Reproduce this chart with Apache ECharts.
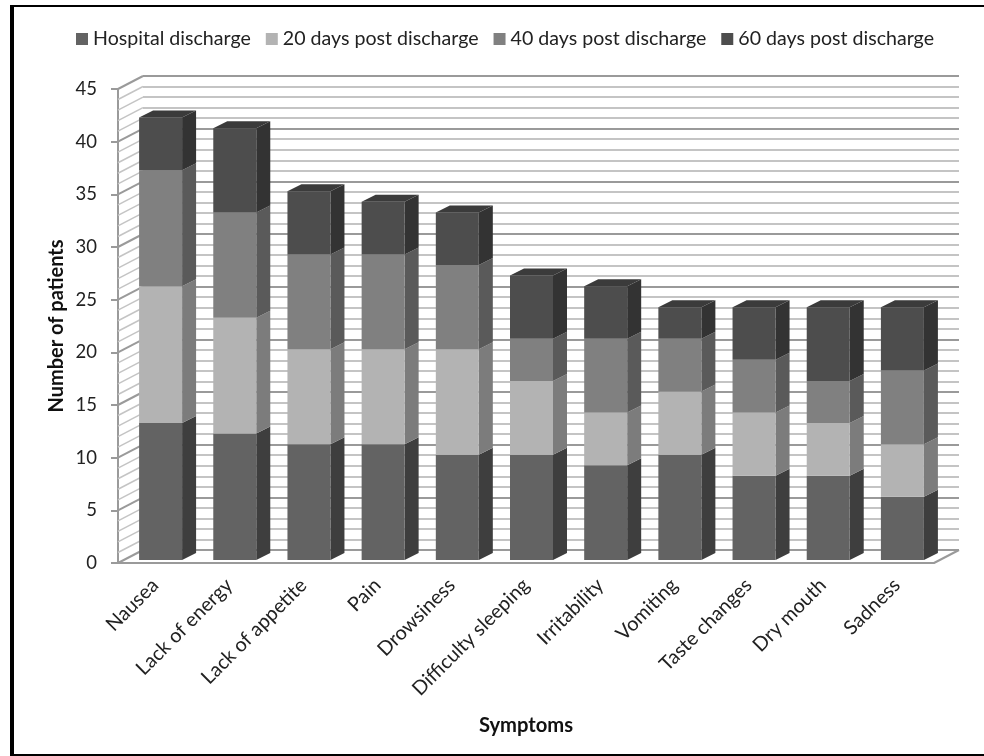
<!DOCTYPE html>
<html>
<head>
<meta charset="utf-8">
<style>
html, body { margin: 0; padding: 0; background: #fff; }
#main { width: 984px; height: 756px; }
</style>
<script src="https://cdn.jsdelivr.net/npm/echarts@6/dist/echarts.min.js"></script>
</head>
<body>
<div id="main"></div>
<script>
var symptoms = ['Nausea', 'Lack of energy', 'Lack of appetite', 'Pain', 'Drowsiness',
    'Difficulty sleeping', 'Irritability', 'Vomiting', 'Taste changes', 'Dry mouth', 'Sadness'];
var seriesNames = ['Hospital discharge', '20 days post discharge', '40 days post discharge', '60 days post discharge'];
var hospital = [13, 12, 11, 11, 10, 10, 9, 10, 8, 8, 6];
var days20 = [13, 11, 9, 9, 10, 7, 5, 6, 6, 5, 5];
var days40 = [11, 10, 9, 9, 8, 4, 7, 5, 5, 4, 7];
var days60 = [5, 8, 6, 5, 5, 6, 5, 3, 5, 7, 6];
var wallValues = [];
for (var w = 0; w <= 45; w++) wallValues.push(w);

var frontColors = ['#636363', '#b3b3b3', '#808080', '#4d4d4d'];
var sideColors = ['#3e3e3e', '#7c7c7c', '#5a5a5a', '#333333'];
var topColor = '#3b3b3b';
var wallColor = '#c4c4c4';
var wallMajor = '#9a9a9a';
var font = 'Lato';

// pixel layout of the fake 3d box
var box = { left: 118, right: 50, top: 89, bottom: 193 };
var depth = { x: 25, y: -13 };
var barShift = { x: 5.5, y: -3 };
var barWidth = 43;
var barDepth = { x: 14, y: -7 };

var myChart = echarts.init(document.getElementById('main'));

function renderSegment(params, api) {
    var i = api.value(0);
    var low = api.coord([i, api.value(1)]);
    var high = api.coord([i, api.value(2)]);
    var x0 = low[0] + barShift.x - barWidth / 2;
    var x1 = x0 + barWidth;
    var y0 = low[1] + barShift.y;
    var y1 = high[1] + barShift.y;
    var dx = barDepth.x, dy = barDepth.y;
    var s = params.seriesIndex;
    var children = [
        { type: 'polygon', shape: { points: [[x1, y0], [x1 + dx, y0 + dy], [x1 + dx, y1 + dy], [x1, y1]] },
          style: { fill: sideColors[s] } },
        { type: 'rect', shape: { x: x0, y: y1, width: barWidth, height: y0 - y1 },
          style: { fill: frontColors[s] } }
    ];
    // only the last segment shows its top
    if (s === 3) {
        children.push({ type: 'polygon', shape: { points: [[x0, y1], [x0 + dx, y1 + dy], [x1 + dx, y1 + dy], [x1, y1]] },
            style: { fill: topColor } });
    }
    return { type: 'group', children: children };
}

function renderSideWall(params, api) {
    var v = api.value(0);
    var p = api.coord([0, v]);
    var x = box.left;
    return { type: 'line', shape: { x1: x, y1: p[1], x2: x + depth.x, y2: p[1] + depth.y },
        style: { stroke: v % 5 === 0 ? wallMajor : wallColor, lineWidth: v % 5 === 0 ? 2 : 1.5 } };
}

function renderFloor(params, api) {
    var p = api.coord([0, 0]);
    var xr = 984 - box.right;
    return { type: 'line', shape: { x1: xr, y1: p[1], x2: xr + depth.x, y2: p[1] + depth.y },
        style: { stroke: wallMajor, lineWidth: 2 } };
}

var stacks = [hospital, days20, days40, days60];
var barSeries = seriesNames.map(function (name, s) {
    return {
        name: name,
        type: 'custom',
        xAxisIndex: 0,
        yAxisIndex: 0,
        renderItem: renderSegment,
        itemStyle: { color: frontColors[s] },
        encode: { x: 0, y: [1, 2] },
        data: symptoms.map(function (c, i) {
            var base = 0;
            for (var k = 0; k < s; k++) base += stacks[k][i];
            return [i, base, base + stacks[s][i]];
        }),
        z: 5
    };
});

var option = {
    animation: false,
    backgroundColor: '#fff',
    textStyle: { fontFamily: font },
    graphic: [
        { type: 'line', shape: { x1: 12, y1: 5, x2: 12, y2: 756 }, style: { stroke: '#000', lineWidth: 4 }, silent: true },
        { type: 'line', shape: { x1: 10, y1: 6, x2: 984, y2: 6 }, style: { stroke: '#000', lineWidth: 2 }, silent: true },
        { type: 'line', shape: { x1: 10, y1: 755, x2: 984, y2: 755 }, style: { stroke: '#000', lineWidth: 2 }, silent: true }
    ],
    legend: {
        top: 24,
        left: 71,
        itemWidth: 12,
        itemHeight: 12,
        itemGap: 15,
        icon: 'rect',
        textStyle: { fontSize: 19.6, color: '#222', fontFamily: font },
        data: seriesNames
    },
    grid: [
        { left: box.left, right: box.right, top: box.top, bottom: box.bottom },
        { left: box.left + depth.x, right: box.right - depth.x, top: box.top + depth.y, bottom: box.bottom - depth.y }
    ],
    xAxis: [{
        type: 'category',
        data: symptoms,
        gridIndex: 0,
        name: 'Symptoms',
        nameLocation: 'middle',
        nameGap: 152,
        nameTextStyle: { fontSize: 20.2, fontWeight: 'bold', color: '#111', fontFamily: font },
        axisTick: { show: false },
        axisLine: { lineStyle: { color: wallMajor, width: 2 } },
        axisLabel: { rotate: 45, interval: 0, fontSize: 19.8, color: '#222', margin: 19, fontFamily: font }
    }, {
        type: 'category',
        data: symptoms,
        gridIndex: 1,
        show: false
    }],
    yAxis: [{
        type: 'value',
        gridIndex: 0,
        min: 0,
        max: 45,
        interval: 5,
        name: 'Number of patients',
        nameLocation: 'middle',
        nameGap: 51,
        nameMoveOverlap: false,
        nameTextStyle: { fontSize: 20, fontWeight: 'bold', color: '#111', fontFamily: font },
        axisLine: { show: true, lineStyle: { color: wallMajor, width: 2 } },
        axisTick: { show: true, length: 7, lineStyle: { color: wallMajor, width: 2 } },
        axisLabel: { fontSize: 18.5, color: '#222', margin: 21, fontFamily: font },
        splitLine: { show: false }
    }, {
        type: 'value',
        gridIndex: 1,
        min: 0,
        max: 45,
        interval: 5,
        axisLine: { show: false },
        axisTick: { show: false },
        axisLabel: { show: false },
        minorTick: { show: false, splitNumber: 5 },
        minorSplitLine: { show: true, lineStyle: { color: wallColor, width: 2 } },
        splitLine: { show: true, lineStyle: { color: wallMajor, width: 2 } }
    }],
    series: barSeries.concat([{
        type: 'custom',
        xAxisIndex: 0,
        yAxisIndex: 0,
        renderItem: renderSideWall,
        data: wallValues.map(function (v) { return [v]; }),
        encode: { y: 0 },
        silent: true,
        z: 1
    }, {
        type: 'custom',
        xAxisIndex: 0,
        yAxisIndex: 0,
        renderItem: renderFloor,
        data: [[0]],
        encode: { y: 0 },
        silent: true,
        z: 1
    }])
};

myChart.setOption(option);
</script>
</body>
</html>
